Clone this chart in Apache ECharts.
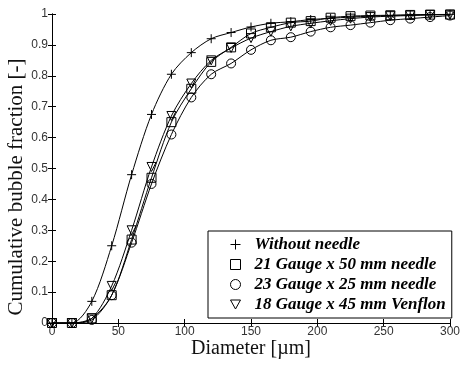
<!DOCTYPE html>
<html>
<head>
<meta charset="utf-8">
<script src="https://cdn.jsdelivr.net/npm/echarts@6/dist/echarts.min.js"></script>
<style>html,body{margin:0;padding:0;background:#fff}#c{width:460px;height:366px}</style>
</head>
<body>
<div id="c"></div>
<script>
var diameters = [0, 15, 30, 45, 60, 75, 90, 105, 120, 135, 150, 165, 180, 195, 210, 225, 240, 255, 270, 285, 300];
var seriesNames = ['Without needle', '21 Gauge x 50 mm needle', '23 Gauge x 25 mm needle', '18 Gauge x 45 mm Venflon'];
var withoutNeedle = [0, 0, 0.07, 0.25, 0.48, 0.675, 0.805, 0.875, 0.92, 0.94, 0.958, 0.97, 0.975, 0.982, 0.986, 0.99, 0.993, 0.995, 0.997, 0.998, 0.999];
var gauge21 = [0, 0, 0.015, 0.09, 0.27, 0.47, 0.65, 0.758, 0.845, 0.892, 0.937, 0.957, 0.972, 0.977, 0.988, 0.993, 0.995, 0.996, 0.997, 0.998, 0.998];
var gauge23 = [0, 0, 0.01, 0.09, 0.26, 0.45, 0.61, 0.73, 0.805, 0.84, 0.884, 0.915, 0.925, 0.943, 0.957, 0.964, 0.972, 0.98, 0.985, 0.99, 0.995];
var gauge18 = [0, 0, 0.015, 0.12, 0.30, 0.505, 0.67, 0.775, 0.85, 0.89, 0.922, 0.943, 0.96, 0.97, 0.978, 0.985, 0.99, 0.993, 0.995, 0.997, 0.998];
var xTicks = [0, 50, 100, 150, 200, 250, 300];
var yTicks = [0, 0.1, 0.2, 0.3, 0.4, 0.5, 0.6, 0.7, 0.8, 0.9, 1];
var xTitle = 'Diameter [µm]';
var yTitle = 'Cumulative bubble fraction [-]';

var plusPath = 'path://M0,5L10,5M5,0L5,10';
var triDownPath = 'path://M0,0L10,0L5,9Z';
var symbols = [plusPath, 'rect', 'circle', triDownPath];
var dataSets = [withoutNeedle, gauge21, gauge23, gauge18];

function pairs(vals) { return diameters.map(function (d, i) { return [d, vals[i]]; }); }

var axisColor = '#000';
var serif = 'Liberation Serif, Times New Roman, serif';
var labelStyle = { color: '#333', fontFamily: 'Liberation Sans, Arial, sans-serif', fontSize: 12 };

var chart = echarts.init(document.getElementById('c'), null, { renderer: 'canvas' });
chart.setOption({
  animation: false,
  backgroundColor: '#fff',
  grid: { left: 52, right: 10, top: 14, bottom: 43, containLabel: false, outerBoundsMode: 'none' },
  graphic: [{
    type: 'text', x: 16, y: 187, rotation: Math.PI / 2, silent: true,
    style: { text: yTitle, font: '21px ' + serif, fill: '#111', align: 'center', verticalAlign: 'middle' }
  }],
  xAxis: [{
    type: 'value', min: xTicks[0], max: xTicks[xTicks.length - 1], interval: 50,
    name: xTitle, nameLocation: 'middle', nameGap: 16, nameMoveOverlap: false,
    nameTextStyle: { fontFamily: serif, fontSize: 20, color: '#111' },
    axisLine: { show: true, lineStyle: { color: axisColor, width: 1 } },
    axisTick: { show: true, inside: true, length: 4, lineStyle: { color: axisColor } },
    axisLabel: Object.assign({ margin: 3 }, labelStyle),
    splitLine: { show: false }
  }, {
    type: 'value', position: 'top', min: xTicks[0], max: xTicks[xTicks.length - 1], interval: 50,
    axisLine: { show: true, lineStyle: { color: axisColor, width: 1 } },
    axisTick: { show: true, inside: true, length: 4, lineStyle: { color: axisColor } },
    axisLabel: { show: false }, splitLine: { show: false }
  }],
  yAxis: [{
    type: 'value', min: yTicks[0], max: yTicks[yTicks.length - 1], interval: 0.1,
    axisLine: { show: true, lineStyle: { color: axisColor, width: 1 } },
    axisTick: { show: true, inside: true, length: 4, lineStyle: { color: axisColor } },
    axisLabel: Object.assign({ margin: 4, formatter: function (v) { return (v === 0 || v === 1) ? String(v) : v.toFixed(1); } }, labelStyle),
    splitLine: { show: false }
  }, {
    type: 'value', position: 'right', min: yTicks[0], max: yTicks[yTicks.length - 1], interval: 0.1,
    axisLine: { show: true, lineStyle: { color: axisColor, width: 1 } },
    axisTick: { show: true, inside: true, length: 4, lineStyle: { color: axisColor } },
    axisLabel: { show: false }, splitLine: { show: false }
  }],
  legend: {
    orient: 'vertical', left: 208, top: 231,
    backgroundColor: '#fff', borderColor: '#000', borderWidth: 1, borderRadius: 0,
    padding: [5, 6, 5, 20], itemGap: 3, itemWidth: 10, itemHeight: 10,
    itemStyle: { color: 'none', borderColor: '#000', borderWidth: 1 },
    textStyle: {
      fontFamily: serif, fontStyle: 'italic', fontWeight: 'bold',
      fontSize: 17, color: '#000', padding: [0, 0, 0, 9]
    },
    data: seriesNames.map(function (n, i) { return { name: n, icon: symbols[i] }; })
  },
  series: seriesNames.map(function (n, i) {
    return {
      name: n, type: 'line', xAxisIndex: 0, yAxisIndex: 0,
      data: pairs(dataSets[i]),
      smooth: 0.3,
      symbol: symbols[i], symbolSize: 9, showAllSymbol: true,
      lineStyle: { color: '#000', width: 1 },
      itemStyle: { color: 'none', borderColor: '#000', borderWidth: 1 },
      z: 2 + i
    };
  })
});
</script>
</body>
</html>
